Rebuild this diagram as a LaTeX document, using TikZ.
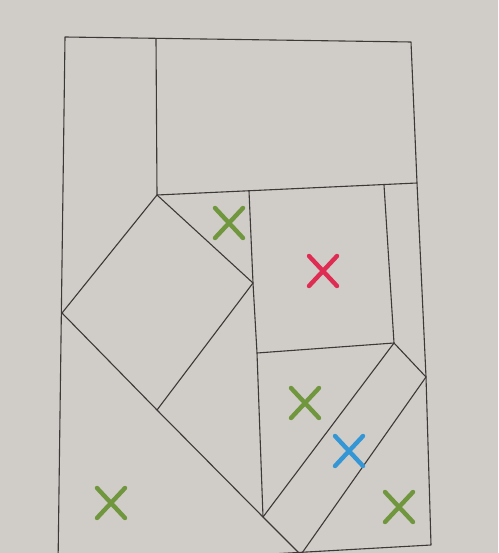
\documentclass[tikz,border=0pt]{standalone}
\definecolor{paper}{RGB}{208,204,199}
\definecolor{ink}{RGB}{60,58,56}
\definecolor{xgreen}{RGB}{112,150,62}
\definecolor{xred}{RGB}{222,44,82}
\definecolor{xblue}{RGB}{52,150,212}
\begin{document}
\begin{tikzpicture}[x=1pt,y=-1pt,
  edge/.style={draw=ink,line width=1.1pt,line join=round},
  cross/.style={line width=4.4pt,line cap=round}]
\useasboundingbox (0,0) rectangle (498,553);
\fill[paper] (0,0) rectangle (498,553);
\begin{scope}
\clip (0,0) rectangle (498,553);
% key points
\coordinate (TL) at (65,37);
\coordinate (TR) at (411,42);
\coordinate (T1) at (156,39);
\coordinate (C) at (157,195);
\coordinate (R1) at (417,183);
\coordinate (H) at (426,377);
\coordinate (BR) at (431,545);
\coordinate (BL) at (58,566);
\coordinate (L) at (62,313);
\coordinate (V1t) at (249,191);
\coordinate (D) at (253,283);
\coordinate (E) at (257,353);
\coordinate (F) at (263,517);
\coordinate (V2t) at (384,185);
\coordinate (G) at (394,343);
\coordinate (B) at (157,410);
\coordinate (Fb) at (300,554);
\coordinate (Hb) at (302,553);
% outer frame
\draw[edge] (BL) -- (TL) -- (TR) -- (R1) -- (H) -- (BR) -- (BL);
% top pieces
\draw[edge] (T1) -- (C) -- (R1);
% verticals
\draw[edge] (V1t) -- (D) -- (E) -- (F);
\draw[edge] (V2t) -- (G);
\draw[edge] (E) -- (G) -- (H);
\draw[edge] (G) -- (F);
% diamond
\draw[edge] (C) -- (D) -- (B) -- (L) -- cycle;
\draw[edge] (B) -- (F) -- (Fb);
\draw[edge] (H) -- (Hb);
% crosses
\foreach \x/\y/\c in {229/223/xgreen, 323/271/xred, 305/403/xgreen, 349/451/xblue, 399/507/xgreen, 111/503/xgreen}{
  \draw[cross,\c] (\x-14,\y-15) -- (\x+14,\y+15);
  \draw[cross,\c] (\x+14,\y-15) -- (\x-14,\y+15);
}
\end{scope}
\end{tikzpicture}
\end{document}
